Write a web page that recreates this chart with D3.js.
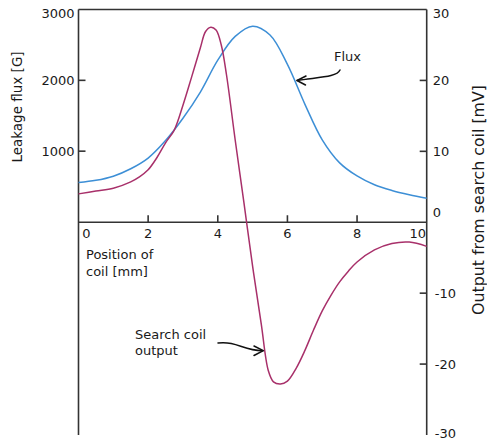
<!DOCTYPE html>
<html>
<head>
<meta charset="utf-8">
<script src="https://cdn.jsdelivr.net/npm/d3@7/dist/d3.min.js"></script>
<style>
  html, body { margin: 0; padding: 0; background: #fff; }
  svg { display: block; }
  text { font-family: "DejaVu Sans", Verdana, sans-serif; fill: #1a1a1a; }
</style>
</head>
<body>
<svg id="chart" width="487" height="441"></svg>
<script>
// Coil position along the x axis [mm]
const xTicks = [2, 4, 6, 8];
const xTickLabels = ["0", "2", "4", "6", "8", "10"];
const xLabelValues = [0, 2, 4, 6, 8, 10];

// Left axis: leakage flux [G]
const fluxTicks = [1000, 2000];
const fluxTickLabels = ["3000", "2000", "1000"];
const fluxLabelValues = [3000, 2000, 1000];

// Right axis: search coil output [mV]
const coilTicks = [20, 10, -10, -20];
const coilTickLabels = ["30", "20", "10", "0", "-10", "-20", "-30"];
const coilLabelValues = [30, 20, 10, 0, -10, -20, -30];

// Leakage flux curve
const fluxX = [0, 0.5, 1, 1.5, 2, 2.5, 3, 3.5, 4, 4.5, 5, 5.5, 6, 6.5, 7, 7.5, 8, 8.5, 9, 9.5, 10];
const fluxG = [556, 588, 647, 752, 903, 1150, 1465, 1835, 2285, 2620, 2765, 2640, 2225, 1665, 1160, 835, 650, 525, 445, 385, 335];

// Search coil output curve
const coilX = [0, 0.5, 1, 1.5, 1.75, 2, 2.25, 2.5, 2.75, 3, 3.25, 3.5, 3.65, 3.8, 3.95, 4.1, 4.25, 4.5, 4.75, 5, 5.25, 5.45, 5.6, 5.8, 6, 6.25, 6.5, 6.75, 7, 7.25, 7.5, 7.75, 8, 8.5, 9, 9.5, 10];
const coilMV = [4.0, 4.4, 4.8, 5.7, 6.4, 7.4, 9.1, 11.2, 13.0, 16.5, 20.5, 24.6, 26.9, 27.5, 27.1, 25.0, 20.8, 11.6, 2.8, -6.2, -14.4, -20.9, -22.5, -22.8, -22.4, -20.6, -18.1, -15.2, -12.5, -10.3, -8.4, -6.9, -5.6, -3.9, -3.0, -2.8, -3.4];

const svg = d3.select("#chart");

const x = d3.scaleLinear().domain([0, 10]).range([78.5, 426.7]);
const yFlux = d3.scaleLinear().domain([0, 3000]).range([222, 9.5]);
const yCoil = d3.scaleLinear().domain([-30, 30]).range([435, 9.5]);

const axisColor = "#333";
const fluxColor = "#3d8fd6";
const coilColor = "#a8306a";

// Frame: left axis, right axis, top border
const frame = svg.append("g").attr("stroke", axisColor).attr("stroke-width", 1.6).attr("fill", "none");
frame.append("line").attr("x1", x(0)).attr("x2", x(0)).attr("y1", yCoil(30)).attr("y2", yCoil(-30));
frame.append("line").attr("x1", x(10)).attr("x2", x(10)).attr("y1", yCoil(30)).attr("y2", yCoil(-30));
frame.append("line").attr("x1", x(0)).attr("x2", x(10)).attr("y1", yCoil(30)).attr("y2", yCoil(30));
// Horizontal position axis at zero output
frame.append("line").attr("x1", x(0)).attr("x2", x(10)).attr("y1", yCoil(0)).attr("y2", yCoil(0));

// Ticks
frame.selectAll(".xt").data(xTicks).join("line")
  .attr("x1", d => x(d)).attr("x2", d => x(d))
  .attr("y1", yCoil(0)).attr("y2", yCoil(0) - 7);
frame.selectAll(".ft").data(fluxTicks).join("line")
  .attr("x1", x(0)).attr("x2", x(0) + 7)
  .attr("y1", d => yFlux(d)).attr("y2", d => yFlux(d));
frame.selectAll(".ct").data(coilTicks).join("line")
  .attr("x1", x(10)).attr("x2", x(10) - 7)
  .attr("y1", d => yCoil(d)).attr("y2", d => yCoil(d));

// Tick labels
const fs = 13;
svg.append("g").selectAll("text").data(xLabelValues).join("text")
  .attr("x", (d, i) => x(d) + (d === 0 ? 8 : d === 10 ? -9 : 0))
  .attr("y", yCoil(0) + 15.5)
  .attr("text-anchor", "middle")
  .attr("font-size", fs)
  .text((d, i) => xTickLabels[i]);

svg.append("g").selectAll("text").data(fluxLabelValues).join("text")
  .attr("x", x(0) - 4)
  .attr("y", d => yFlux(d) + (d === 3000 ? 3.5 : 0))
  .attr("dy", "0.36em")
  .attr("text-anchor", "end")
  .attr("font-size", fs)
  .text((d, i) => fluxTickLabels[i]);

svg.append("g").selectAll("text").data(coilLabelValues).join("text")
  .attr("x", d => x(10) + (d < 0 ? 8 : 6))
  .attr("y", d => yCoil(d) + (d === 30 ? 3.5 : d === 0 ? -10 : d === -30 ? -2 : 0))
  .attr("dy", "0.36em")
  .attr("text-anchor", "start")
  .attr("font-size", fs)
  .text((d, i) => coilTickLabels[i]);

// Axis titles
svg.append("text")
  .attr("transform", "translate(22,107) rotate(-90)")
  .attr("text-anchor", "middle")
  .attr("font-size", 13.5)
  .text("Leakage flux [G]");

svg.append("text")
  .attr("transform", "translate(484,200) rotate(-90)")
  .attr("text-anchor", "middle")
  .attr("font-size", 15.8)
  .text("Output from search coil [mV]");

const posLabel = svg.append("text").attr("font-size", fs);
posLabel.append("tspan").attr("x", 86).attr("y", 259).text("Position of");
posLabel.append("tspan").attr("x", 86).attr("y", 276).text("coil [mm]");

// Curves
const fluxLine = d3.line().x(d => x(d[0])).y(d => yFlux(d[1])).curve(d3.curveCatmullRom.alpha(0.5));
const coilLine = d3.line().x(d => x(d[0])).y(d => yCoil(d[1])).curve(d3.curveCatmullRom.alpha(0.5));

svg.append("path")
  .datum(d3.zip(fluxX, fluxG))
  .attr("d", fluxLine)
  .attr("fill", "none").attr("stroke", fluxColor).attr("stroke-width", 1.5);

svg.append("path")
  .datum(d3.zip(coilX, coilMV))
  .attr("d", coilLine)
  .attr("fill", "none").attr("stroke", coilColor).attr("stroke-width", 1.5);

// Annotations
svg.append("text").attr("x", 334).attr("y", 61).attr("font-size", fs).text("Flux");
const coilNote = svg.append("text").attr("font-size", fs);
coilNote.append("tspan").attr("x", 135).attr("y", 339).text("Search coil");
coilNote.append("tspan").attr("x", 135).attr("y", 355).text("output");

const arrows = svg.append("g").attr("fill", "none").attr("stroke", "#111").attr("stroke-width", 1.5)
  .attr("stroke-linecap", "round").attr("stroke-linejoin", "round");
arrows.append("path").attr("d", "M340,70 C337,77 320,77 297,80.5");
arrows.append("path").attr("d", "M306,76 L297,80.5 L305.5,85");
arrows.append("path").attr("d", "M218,343 C238,341 243,351 263,350.7");
arrows.append("path").attr("d", "M254,346 L263.3,350.7 L254,355.5");
</script>
</body>
</html>
